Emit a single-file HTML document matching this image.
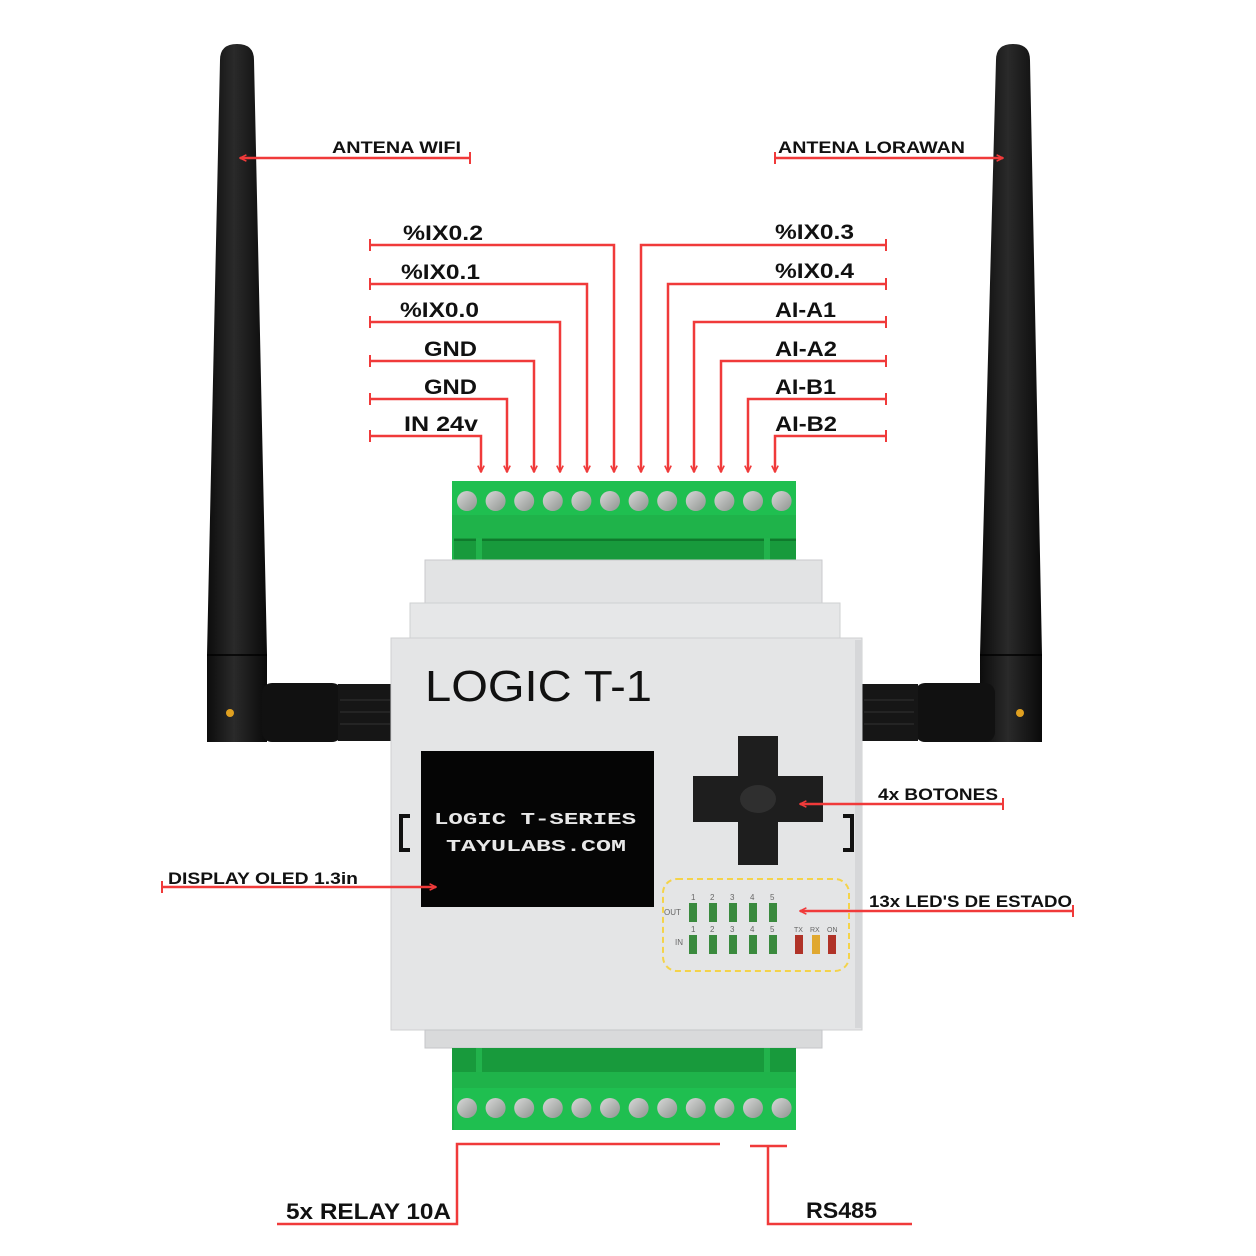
<!DOCTYPE html>
<html><head><meta charset="utf-8"><style>
html,body{margin:0;padding:0;background:#fff}
svg{display:block}
text{font-family:"Liberation Sans",sans-serif;font-weight:bold;fill:#111}
</style></head><body>
<svg width="1256" height="1256" viewBox="0 0 1256 1256" xmlns="http://www.w3.org/2000/svg">
<defs>
<marker id="ah" viewBox="0 0 10 10" refX="9" refY="5" markerWidth="8" markerHeight="8" orient="auto-start-reverse" markerUnits="userSpaceOnUse">
<path d="M1,1 L9,5 L1,9" fill="none" stroke="#f03a3a" stroke-width="2"/>
</marker>
<linearGradient id="ant" x1="0" x2="1"><stop offset="0" stop-color="#0c0c0c"/><stop offset=".45" stop-color="#2a2a2a"/><stop offset="1" stop-color="#0a0a0a"/></linearGradient>
<linearGradient id="scr" x1="0" y1="0" x2="1" y2="1"><stop offset="0" stop-color="#d8d8d8"/><stop offset="1" stop-color="#8f9490"/></linearGradient>
</defs>

<path d="M220,60 Q220,44 237,44 Q254,44 254,60 L267,655 L267,742 L207,742 L207,655 Z" fill="url(#ant)"/>
<line x1="207" y1="655" x2="267" y2="655" stroke="#000" stroke-width="1.5"/>
<circle cx="230" cy="713" r="4" fill="#e0a020"/>
<rect x="262" y="683" width="80" height="59" rx="10" fill="#111"/>
<rect x="338" y="684" width="54" height="57" fill="#161616"/>
<g stroke="#333" stroke-width="1"><line x1="340" y1="700" x2="390" y2="700"/><line x1="340" y1="712" x2="390" y2="712"/><line x1="340" y1="724" x2="390" y2="724"/></g>

<path d="M996,60 Q996,44 1013,44 Q1030,44 1030,60 L1042,655 L1042,742 L980,742 L980,655 Z" fill="url(#ant)"/>
<line x1="980" y1="655" x2="1042" y2="655" stroke="#000" stroke-width="1.5"/>
<circle cx="1020" cy="713" r="4" fill="#e0a020"/>
<rect x="915" y="683" width="80" height="59" rx="10" fill="#111"/>
<rect x="862" y="684" width="56" height="57" fill="#161616"/>
<g stroke="#333" stroke-width="1"><line x1="864" y1="700" x2="914" y2="700"/><line x1="864" y1="712" x2="914" y2="712"/><line x1="864" y1="724" x2="914" y2="724"/></g>

<rect x="452" y="481" width="344" height="80" fill="#1fb34a"/>
<rect x="452" y="481" width="344" height="34" fill="#1fbf50"/>
<rect x="454" y="538" width="342" height="22" fill="#189a3c"/>
<line x1="454" y1="540" x2="796" y2="540" stroke="#0f7a2c" stroke-width="2"/>
<rect x="476" y="538" width="6" height="22" fill="#22b34c"/><rect x="764" y="538" width="6" height="22" fill="#22b34c"/>
<g fill="url(#scr)">
<circle cx="467" cy="501" r="10"/><circle cx="495.6" cy="501" r="10"/><circle cx="524.2" cy="501" r="10"/><circle cx="552.8" cy="501" r="10"/><circle cx="581.4" cy="501" r="10"/><circle cx="610" cy="501" r="10"/><circle cx="638.6" cy="501" r="10"/><circle cx="667.2" cy="501" r="10"/><circle cx="695.8" cy="501" r="10"/><circle cx="724.4" cy="501" r="10"/><circle cx="753" cy="501" r="10"/><circle cx="781.6" cy="501" r="10"/>
</g>

<rect x="425" y="560" width="397" height="45" fill="#e2e3e4" stroke="#c9cacc"/>
<rect x="410" y="603" width="430" height="37" fill="#e6e7e8" stroke="#cfd0d2"/>
<rect x="391" y="638" width="471" height="392" fill="#e4e5e6" stroke="#cfd0d2"/>
<rect x="855" y="640" width="7" height="388" fill="#d6d7d9"/>
<rect x="425" y="1030" width="397" height="18" fill="#d9dadb" stroke="#c5c6c8"/>
<path d="M410,816 L401,816 L401,850 L410,850" fill="none" stroke="#111" stroke-width="4"/>
<path d="M843,816 L852,816 L852,850 L843,850" fill="none" stroke="#111" stroke-width="4"/>

<text x="425" y="701" font-size="44" textLength="227" lengthAdjust="spacingAndGlyphs" style="font-weight:normal">LOGIC T-1</text>

<rect x="421" y="751" width="233" height="156" fill="#050505"/>
<text x="434" y="824" font-size="17" textLength="202" lengthAdjust="spacingAndGlyphs" style="font-family:'Liberation Mono',monospace;fill:#e8e8e8">LOGIC T-SERIES</text>
<text x="446" y="851" font-size="17" textLength="180" lengthAdjust="spacingAndGlyphs" style="font-family:'Liberation Mono',monospace;fill:#e8e8e8">TAYULABS.COM</text>

<rect x="738" y="736" width="40" height="129" fill="#1e1e1e"/>
<rect x="693" y="776" width="130" height="46" fill="#1e1e1e"/>
<ellipse cx="758" cy="799" rx="18" ry="14" fill="#3a3a3a" opacity=".6"/>

<rect x="663" y="879" width="186" height="92" rx="14" fill="none" stroke="#f4d34a" stroke-width="2" stroke-dasharray="6,4"/>
<g font-size="8">
<text x="664" y="915" style="font-weight:normal;fill:#666">OUT</text>
<text x="675" y="945" style="font-weight:normal;fill:#666">IN</text>
<text x="691" y="900" style="font-weight:normal;fill:#666">1</text><text x="710" y="900" style="font-weight:normal;fill:#666">2</text><text x="730" y="900" style="font-weight:normal;fill:#666">3</text><text x="750" y="900" style="font-weight:normal;fill:#666">4</text><text x="770" y="900" style="font-weight:normal;fill:#666">5</text>
<text x="691" y="932" style="font-weight:normal;fill:#666">1</text><text x="710" y="932" style="font-weight:normal;fill:#666">2</text><text x="730" y="932" style="font-weight:normal;fill:#666">3</text><text x="750" y="932" style="font-weight:normal;fill:#666">4</text><text x="770" y="932" style="font-weight:normal;fill:#666">5</text>
<text x="794" y="932" font-size="7" style="font-weight:normal;fill:#666">TX</text><text x="810" y="932" font-size="7" style="font-weight:normal;fill:#666">RX</text><text x="827" y="932" font-size="7" style="font-weight:normal;fill:#666">ON</text>
</g>
<g fill="#3a8a3e">
<rect x="689" y="903" width="8" height="19"/><rect x="709" y="903" width="8" height="19"/><rect x="729" y="903" width="8" height="19"/><rect x="749" y="903" width="8" height="19"/><rect x="769" y="903" width="8" height="19"/>
<rect x="689" y="935" width="8" height="19"/><rect x="709" y="935" width="8" height="19"/><rect x="729" y="935" width="8" height="19"/><rect x="749" y="935" width="8" height="19"/><rect x="769" y="935" width="8" height="19"/>
</g>
<rect x="795" y="935" width="8" height="19" fill="#b03328"/><rect x="812" y="935" width="8" height="19" fill="#e0a830"/><rect x="828" y="935" width="8" height="19" fill="#b03328"/>

<rect x="452" y="1048" width="344" height="82" fill="#1fb34a"/>
<rect x="452" y="1048" width="344" height="24" fill="#189a3c"/>
<rect x="454" y="1088" width="342" height="42" fill="#1fbf50"/>
<rect x="476" y="1048" width="6" height="24" fill="#22b34c"/><rect x="764" y="1048" width="6" height="24" fill="#22b34c"/>
<g fill="url(#scr)">
<circle cx="467" cy="1108" r="10"/><circle cx="495.6" cy="1108" r="10"/><circle cx="524.2" cy="1108" r="10"/><circle cx="552.8" cy="1108" r="10"/><circle cx="581.4" cy="1108" r="10"/><circle cx="610" cy="1108" r="10"/><circle cx="638.6" cy="1108" r="10"/><circle cx="667.2" cy="1108" r="10"/><circle cx="695.8" cy="1108" r="10"/><circle cx="724.4" cy="1108" r="10"/><circle cx="753" cy="1108" r="10"/><circle cx="781.6" cy="1108" r="10"/>
</g>

<g stroke="#f03a3a" stroke-width="2.5" fill="none">
<path d="M370,245 L614,245 L614,472" marker-end="url(#ah)"/>
<path d="M370,284 L587,284 L587,472" marker-end="url(#ah)"/>
<path d="M370,322 L560,322 L560,472" marker-end="url(#ah)"/>
<path d="M370,361 L534,361 L534,472" marker-end="url(#ah)"/>
<path d="M370,399 L507,399 L507,472" marker-end="url(#ah)"/>
<path d="M370,436 L481,436 L481,472" marker-end="url(#ah)"/>
<path d="M886,245 L641,245 L641,472" marker-end="url(#ah)"/>
<path d="M886,284 L668,284 L668,472" marker-end="url(#ah)"/>
<path d="M886,322 L694,322 L694,472" marker-end="url(#ah)"/>
<path d="M886,361 L721,361 L721,472" marker-end="url(#ah)"/>
<path d="M886,399 L748,399 L748,472" marker-end="url(#ah)"/>
<path d="M886,436 L775,436 L775,472" marker-end="url(#ah)"/>
<g stroke-width="2"><path d="M370,239V251M370,278V290M370,316V328M370,355V367M370,393V405M370,430V442"/>
<path d="M886,239V251M886,278V290M886,316V328M886,355V367M886,393V405M886,430V442"/></g>

<path d="M470,158 L240,158" marker-end="url(#ah)"/><path d="M470,152V164" stroke-width="2"/>
<path d="M775,158 L1003,158" marker-end="url(#ah)"/><path d="M775,152V164" stroke-width="2"/>
<path d="M1003,804 L800,804" marker-end="url(#ah)"/><path d="M1003,798V810" stroke-width="2"/>
<path d="M1073,911 L800,911" marker-end="url(#ah)"/><path d="M1073,905V917" stroke-width="2"/>
<path d="M162,887 L436,887" marker-end="url(#ah)"/><path d="M162,881V893" stroke-width="2"/>
<path d="M720,1144 L457,1144 L457,1224 L277,1224"/>
<path d="M750,1146 L787,1146 M768,1146 L768,1224 L912,1224"/>
</g>

<g font-size="21">
<text x="403" y="240" textLength="80" lengthAdjust="spacingAndGlyphs">%IX0.2</text>
<text x="401" y="279" textLength="79" lengthAdjust="spacingAndGlyphs">%IX0.1</text>
<text x="400" y="317" textLength="79" lengthAdjust="spacingAndGlyphs">%IX0.0</text>
<text x="424" y="356" textLength="53" lengthAdjust="spacingAndGlyphs">GND</text>
<text x="424" y="394" textLength="53" lengthAdjust="spacingAndGlyphs">GND</text>
<text x="404" y="431" textLength="74" lengthAdjust="spacingAndGlyphs">IN 24v</text>
<text x="775" y="239" textLength="79" lengthAdjust="spacingAndGlyphs">%IX0.3</text>
<text x="775" y="278" textLength="79" lengthAdjust="spacingAndGlyphs">%IX0.4</text>
<text x="775" y="317" textLength="61" lengthAdjust="spacingAndGlyphs">AI-A1</text>
<text x="775" y="356" textLength="62" lengthAdjust="spacingAndGlyphs">AI-A2</text>
<text x="775" y="394" textLength="61" lengthAdjust="spacingAndGlyphs">AI-B1</text>
<text x="775" y="431" textLength="62" lengthAdjust="spacingAndGlyphs">AI-B2</text>
</g>
<g font-size="17">
<text x="332" y="153" textLength="129" lengthAdjust="spacingAndGlyphs">ANTENA WIFI</text>
<text x="778" y="153" textLength="187" lengthAdjust="spacingAndGlyphs">ANTENA LORAWAN</text>
<text x="878" y="800" textLength="120" lengthAdjust="spacingAndGlyphs">4x BOTONES</text>
<text x="869" y="907" textLength="203" lengthAdjust="spacingAndGlyphs">13x LED'S DE ESTADO</text>
<text x="168" y="884" textLength="190" lengthAdjust="spacingAndGlyphs">DISPLAY OLED 1.3in</text>
</g>
<g font-size="22">
<text x="286" y="1219" textLength="165" lengthAdjust="spacingAndGlyphs">5x RELAY 10A</text>
<text x="806" y="1218" textLength="71" lengthAdjust="spacingAndGlyphs">RS485</text>
</g>
</svg>
</body></html>
